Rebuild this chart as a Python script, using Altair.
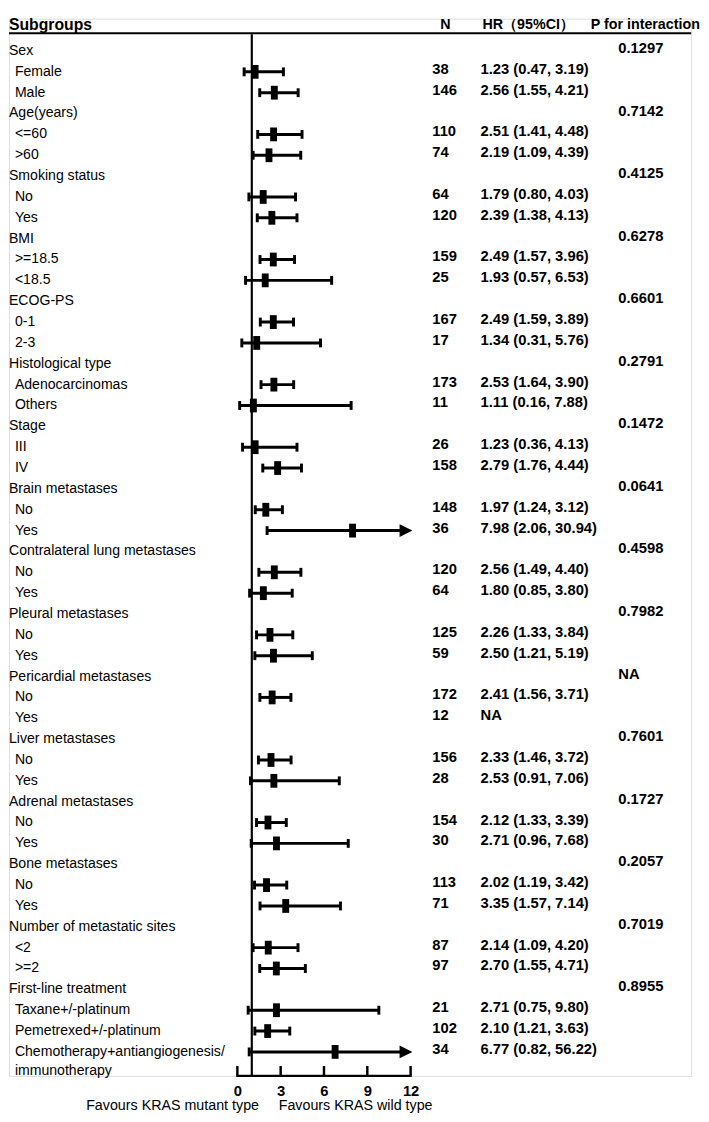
import altair as alt
import pandas as pd

FONT = "Liberation Sans"

groups = ["Sex", "Age(years)", "Smoking status", "BMI", "ECOG-PS", "Histological type", "Stage",
          "Brain metastases", "Contralateral lung metastases", "Pleural metastases",
          "Pericardial metastases", "Liver metastases", "Adrenal metastases", "Bone metastases",
          "Number of metastatic sites", "First-line treatment"]
p_values = ["0.1297", "0.7142", "0.4125", "0.6278", "0.6601", "0.2791", "0.1472", "0.0641",
            "0.4598", "0.7982", "NA", "0.7601", "0.1727", "0.2057", "0.7019", "0.8955"]
subgroups = [["Female", "Male"], ["<=60", ">60"], ["No", "Yes"], [">=18.5", "<18.5"], ["0-1", "2-3"],
             ["Adenocarcinomas", "Others"], ["III", "IV"], ["No", "Yes"], ["No", "Yes"], ["No", "Yes"],
             ["No", "Yes"], ["No", "Yes"], ["No", "Yes"], ["No", "Yes"], ["<2", ">=2"],
             ["Taxane+/-platinum", "Pemetrexed+/-platinum", "Chemotherapy+antiangiogenesis/|immunotherapy"]]
n_values = [[38, 146], [110, 74], [64, 120], [159, 25], [167, 17], [173, 11], [26, 158], [148, 36],
            [120, 64], [125, 59], [172, 12], [156, 28], [154, 30], [113, 71], [87, 97], [21, 102, 34]]
hr = [[1.23, 2.56], [2.51, 2.19], [1.79, 2.39], [2.49, 1.93], [2.49, 1.34], [2.53, 1.11], [1.23, 2.79],
      [1.97, 7.98], [2.56, 1.80], [2.26, 2.50], [2.41, None], [2.33, 2.53], [2.12, 2.71], [2.02, 3.35],
      [2.14, 2.70], [2.71, 2.10, 6.77]]
ci_low = [[0.47, 1.55], [1.41, 1.09], [0.80, 1.38], [1.57, 0.57], [1.59, 0.31], [1.64, 0.16], [0.36, 1.76],
          [1.24, 2.06], [1.49, 0.85], [1.33, 1.21], [1.56, None], [1.46, 0.91], [1.33, 0.96], [1.19, 1.57],
          [1.09, 1.55], [0.75, 1.21, 0.82]]
ci_high = [[3.19, 4.21], [4.48, 4.39], [4.03, 4.13], [3.96, 6.53], [3.89, 5.76], [3.90, 7.88], [4.13, 4.44],
           [3.12, 30.94], [4.40, 3.80], [3.84, 5.19], [3.71, None], [3.72, 7.06], [3.39, 7.68], [3.42, 7.14],
           [4.20, 4.71], [9.80, 3.63, 56.22]]
x_ticks = [0, 3, 6, 9, 12]
header_texts = ["Subgroups", "N", "HR（95%CI）", "P for interaction"]
footer_texts = ["Favours KRAS mutant type", "Favours KRAS wild type"]

# ---- layout constants ----
W, H = 693, 1074
X_MAX = 12
ARROW_BASE = 11.4
ARROW_MID = 11.68

group_recs, sub_recs = [], []
r = 0
for g, p, subs, ns, hs, ls, us in zip(groups, p_values, subgroups, n_values, hr, ci_low, ci_high):
    group_recs.append({"row": r, "label": g, "p": p})
    r += 1
    for s, n, h, l, u in zip(subs, ns, hs, ls, us):
        rec = {"row": r, "label": s, "n": str(n)}
        if h is None:
            rec["hr_text"] = "NA"
        else:
            rec.update(hr=h, lo=l, hi=u, hi_draw=min(u, ARROW_BASE), arrow=bool(u > X_MAX),
                       hr_text=f"{h:.2f} ({l:.2f}, {u:.2f})")
        sub_recs.append(rec)
        r += 1

group_df = pd.DataFrame(group_recs)
sub_df = pd.DataFrame(sub_recs)
est_df = sub_df.dropna(subset=["hr"]).copy()
arrow_df = est_df[est_df["arrow"] == True].copy()
arrow_df["xa"] = ARROW_MID
caps = [{"row": rr, "x": lo} for rr, lo in zip(est_df["row"], est_df["lo"])]
caps += [{"row": rr, "x": hi} for rr, hi, a in zip(est_df["row"], est_df["hi"], est_df["arrow"]) if not a]
cap_df = pd.DataFrame(caps)
tick_df = pd.DataFrame({"t": x_ticks})
domain_df = pd.DataFrame({"a": [x_ticks[0]], "b": [x_ticks[-1]]})
ref_df = pd.DataFrame({"x": [1], "row": [-0.8]})
hline_df = pd.DataFrame({"row": [-0.85]})

xs = alt.Scale(domain=[-15.818, 31.432], nice=False, zero=False)
ys = alt.Scale(domain=[-1.55, 49.15], reverse=True, nice=False, zero=False)
x_axis = alt.Axis(values=x_ticks, domain=False, ticks=False, grid=False, labelFontSize=15,
                  labelFontWeight="bold", labelColor="black", labelPadding=8, title=None,
                  labelFont=FONT, labelFlush=False)


def X(field):
    return alt.X(field, type="quantitative", scale=xs, axis=x_axis)


def Y(field="row"):
    return alt.Y(field, type="quantitative", scale=ys, axis=None)


black = "#000000"

# text columns
grp_text = alt.Chart(group_df).mark_text(align="left", baseline="middle", fontSize=14.3, color=black,
                                         font=FONT).encode(x=alt.value(0), y=Y(), text="label:N")
sub_text = alt.Chart(sub_df).mark_text(align="left", baseline="middle", fontSize=14.3, color=black,
                                       font=FONT, lineBreak="|", lineHeight=19).encode(
    x=alt.value(6), y=Y(), text="label:N")
n_text = alt.Chart(sub_df).mark_text(align="left", baseline="middle", fontSize=15, fontWeight="bold",
                                     color=black, font=FONT, dy=-3).encode(
    x=alt.value(430), y=Y(), text="n:N")
hr_text = alt.Chart(sub_df).mark_text(align="left", baseline="middle", fontSize=15, fontWeight="bold",
                                      color=black, font=FONT, dy=-3).encode(
    x=alt.value(479), y=Y(), text="hr_text:N")
p_text = alt.Chart(group_df).mark_text(align="left", baseline="middle", fontSize=15, fontWeight="bold",
                                       color=black, font=FONT, dy=-3).encode(
    x=alt.value(619), y=Y(), text="p:N")

# headers
head_pos = [0, 438, 481, 591]
head_sizes = [16, 14.5, 14.5, 14.5]
head_layers = []
for t, xp, fs in zip(header_texts, head_pos, head_sizes):
    head_layers.append(
        alt.Chart(pd.DataFrame({"row": [-1.25], "t": [t]})).mark_text(
            align="left", baseline="middle", fontSize=fs, fontWeight="bold", color=black, font=FONT
        ).encode(x=alt.value(xp), y=Y(), text="t:N"))
hline = alt.Chart(hline_df).mark_rule(color=black, strokeWidth=2).encode(
    x=alt.value(0), x2=alt.value(W), y=Y())

# forest
ref_line = alt.Chart(ref_df).mark_rule(color=black, strokeWidth=2.2).encode(
    x=X("x"), y=Y(), y2=alt.value(H))
ci = alt.Chart(est_df).mark_rule(color=black, strokeWidth=3, strokeCap="butt").encode(
    x=X("lo"), x2="hi_draw:Q", y=Y())
cap = alt.Chart(cap_df).mark_rule(color=black, strokeWidth=3, yOffset=-4.5, y2Offset=4.5).encode(
    x=X("x"), y=Y(), y2="row:Q")
marker = alt.Chart(est_df).mark_point(shape="M-0.5,-1L0.5,-1L0.5,1L-0.5,1Z", filled=True, size=196,
                                      color=black, opacity=1).encode(x=X("hr"), y=Y())
arrow = alt.Chart(arrow_df).mark_point(shape="M-1,-1L1,0L-1,1Z", filled=True, size=169, color=black,
                                       opacity=1).encode(x=X("xa"), y=Y())

# axis line & ticks
dom = alt.Chart(domain_df).mark_rule(color=black, strokeWidth=2.5).encode(
    x=X("a"), x2="b:Q", y=alt.value(H))
ticks = alt.Chart(tick_df).mark_rule(color=black, strokeWidth=2.5).encode(
    x=X("t"), y=alt.value(H + 1), y2=alt.value(H - 10))

foot1 = alt.Chart(pd.DataFrame({"t": [footer_texts[0]]})).mark_text(
    align="right", baseline="middle", fontSize=14.5, color=black, font=FONT).encode(
    x=alt.value(254), y=alt.value(H + 31), text="t:N")
foot2 = alt.Chart(pd.DataFrame({"t": [footer_texts[1]]})).mark_text(
    align="left", baseline="middle", fontSize=14.5, color=black, font=FONT).encode(
    x=alt.value(274), y=alt.value(H + 31), text="t:N")

chart = alt.layer(
    ci, ref_line, cap, marker, arrow, dom, ticks, hline,
    grp_text, sub_text, n_text, hr_text, p_text, *head_layers, foot1, foot2
).properties(width=W, height=H, padding=0).configure_view(stroke=None).configure(font=FONT)

chart.save("out.html", embed_options={"renderer": "svg", "actions": False})
